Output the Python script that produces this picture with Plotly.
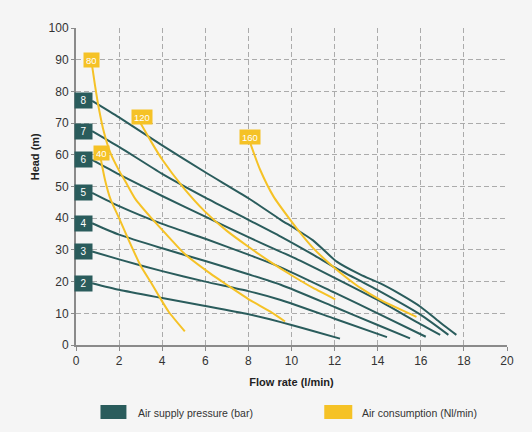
import plotly.graph_objects as go

# ---------------- data ----------------
pressures = [2, 3, 4, 5, 6, 7, 8]  # bar
flow_p = {
    2: [0.75, 2, 4, 6, 8, 9, 10, 11, 12.25],
    3: [0.75, 2, 4, 6, 8, 9.5, 12, 14.43],
    4: [0.75, 2, 4, 6, 8, 9.5, 12, 14, 15.5],
    5: [0.75, 2, 4, 6, 8, 9.5, 12, 14, 16.23],
    6: [0.75, 2, 4, 6, 8, 9.5, 10.4, 12, 14, 16, 16.9],
    7: [0.75, 2, 4, 6, 8, 9.5, 11, 12, 14, 16, 17.28],
    8: [0.75, 2, 4, 6, 8, 9.5, 10.1, 11, 12.1, 13.2, 14.1, 15, 16, 16.75, 17.65],
}
head_p = {
    2: [19.5, 17.4, 14.8, 12.3, 9.7, 8.1, 6.3, 4.4, 2.0],
    3: [29.5, 27.0, 23.3, 20.0, 17.0, 14.2, 8.3, 2.5],
    4: [38.4, 34.8, 30.5, 26.5, 22.3, 19.0, 12.0, 6.3, 2.1],
    5: [48.0, 43.8, 38.2, 33.5, 28.5, 24.5, 16.5, 10.0, 2.6],
    6: [58.4, 53.8, 47.0, 40.5, 34.0, 29.4, 26.6, 21.2, 14.2, 6.5, 3.2],
    7: [67.5, 62.5, 54.0, 46.5, 39.5, 34.2, 28.5, 24.5, 17.3, 9.5, 3.2],
    8: [77.0, 71.8, 63.0, 54.5, 46.3, 39.5, 37.0, 33.0, 26.3, 22.2, 19.5, 16.2, 12.0, 7.9, 3.2],
}

air = [40, 80, 120, 160]  # Nl/min
flow_a = {
    40: [1.14, 1.35, 1.6, 2.0, 2.45, 3.0, 3.5, 3.8, 4.3, 5.05],
    80: [0.75, 0.88, 1.05, 1.3, 1.6, 2.0, 2.3, 2.76, 3.5, 4.38, 5.0, 6.24, 7.0, 8.0, 9.02, 9.7],
    120: [2.99, 3.5, 4, 5, 6, 7, 8, 9, 10, 11, 12.03],
    160: [8.09, 8.55, 9.17, 9.95, 10.5, 11.03, 11.5, 12, 12.6, 13.2, 14.1, 14.8, 15.8],
}
head_a = {
    40: [59, 52, 46, 40, 33, 25, 19.5, 16, 10.5, 4.3],
    80: [88, 82, 75, 67, 60.5, 55, 51.5, 46, 40, 33.5, 29, 22.5, 19, 14.5, 10.5, 7.4],
    120: [70, 64, 58.5, 49.5, 42, 36, 31, 26.3, 22, 18, 14.4],
    160: [63.6, 55.2, 46.8, 39.4, 34.6, 30.4, 27.3, 24.3, 21, 18, 14.3, 12, 8.9],
}
# label anchor positions (flow, head)
air_label_pos = {40: (1.17, 60.7), 80: (0.73, 90), 120: (3.07, 72), 160: (8.09, 65.7)}

x_ticks = list(range(0, 21, 2))
y_ticks = list(range(0, 101, 10))

GREEN = "#2a5c5c"
YELLOW = "#f5c226"
BG = "#f5f5f5"
FONT = "Liberation Sans, Arial, sans-serif"

fig = go.Figure()

for p in pressures:
    fig.add_trace(go.Scatter(x=flow_p[p], y=head_p[p], mode="lines",
                             line=dict(color=GREEN, width=2, shape="spline", smoothing=0.6),
                             hoverinfo="skip", showlegend=False))
for a in air:
    fig.add_trace(go.Scatter(x=flow_a[a], y=head_a[a], mode="lines",
                             line=dict(color=YELLOW, width=2, shape="spline", smoothing=0.6),
                             hoverinfo="skip", showlegend=False))

annotations = []
for p in pressures:
    annotations.append(dict(x=0.37, y=head_p[p][0], xref="x", yref="y", text=str(p),
                            showarrow=False, bgcolor=GREEN, width=13, height=11, borderpad=2,
                            font=dict(color="white", size=10, family=FONT)))
for a in air:
    ax, ay = air_label_pos[a]
    annotations.append(dict(x=ax, y=ay, xref="x", yref="y", text=str(a),
                            showarrow=False, bgcolor=YELLOW, height=10, borderpad=2,
                            font=dict(color="white", size=9.5, family=FONT)))

# y-axis title
annotations.append(dict(x=-0.113, y=0.593, xref="paper", yref="paper", text="<b>Head (m)</b>",
                        textangle=-90, showarrow=False, font=dict(size=11, color="#222", family=FONT)))
# legend texts
annotations.append(dict(x=0.140, y=-0.213, xref="paper", yref="paper", xanchor="left",
                        yanchor="middle", text="Air supply pressure (bar)", showarrow=False,
                        font=dict(size=10.5, color="#333", family=FONT)))
annotations.append(dict(x=0.659, y=-0.213, xref="paper", yref="paper", xanchor="left",
                        yanchor="middle", text="Air consumption (Nl/min)", showarrow=False,
                        font=dict(size=10.5, color="#333", family=FONT)))

shapes = [
    dict(type="rect", xref="paper", yref="paper", x0=0.0568, x1=0.117, y0=-0.2334, y1=-0.1893,
         fillcolor=GREEN, line=dict(width=0)),
    dict(type="rect", xref="paper", yref="paper", x0=0.576, x1=0.641, y0=-0.2334, y1=-0.1893,
         fillcolor=YELLOW, line=dict(width=0)),
]

fig.update_layout(
    width=532, height=432,
    margin=dict(l=75.5, r=25, t=28, b=87),
    paper_bgcolor=BG, plot_bgcolor=BG,
    font=dict(family=FONT, size=12, color="#333"),
    annotations=annotations, shapes=shapes,
    showlegend=False,
)
fig.update_xaxes(range=[0, 20], tickvals=x_ticks, showgrid=True, gridcolor="#ababab",
                 griddash="5px,3px", gridwidth=1, zeroline=False,
                 showline=True, linecolor="#8a8a8a", linewidth=2,
                 ticks="outside", ticklen=4, tickcolor="#8a8a8a",
                 tickfont=dict(size=12, color="#333"),
                 title=dict(text="<b>Flow rate (l/min)</b>", font=dict(size=11, color="#222"), standoff=11))
fig.update_yaxes(range=[0, 100], tickvals=y_ticks, showgrid=True, gridcolor="#ababab",
                 griddash="5px,3px", gridwidth=1, zeroline=False,
                 showline=True, linecolor="#8a8a8a", linewidth=2,
                 ticks="outside", ticklen=3, tickcolor="#8a8a8a",
                 tickfont=dict(size=12, color="#333"))

fig.write_html("out.html")
